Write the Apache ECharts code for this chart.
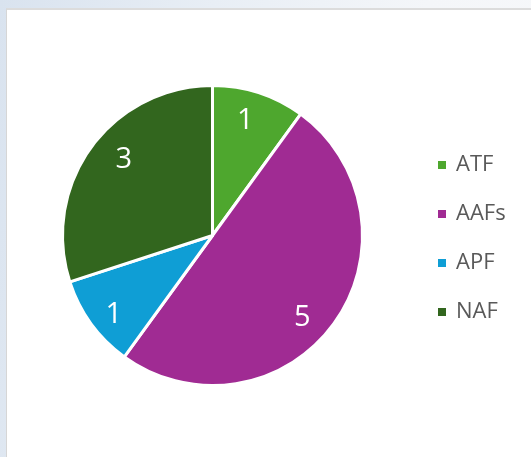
<!DOCTYPE html>
<html>
<head>
<meta charset="utf-8">
<script src="https://cdn.jsdelivr.net/npm/echarts@6/dist/echarts.min.js"></script>
<style>
  html, body { margin: 0; padding: 0; width: 531px; height: 457px; overflow: hidden; }
  body { background: linear-gradient(100deg, #d9e3ef 0%, #e8eef5 35%, #f4f6f9 70%, #f7f8fa 100%); position: relative; }
  #card { position: absolute; left: 6px; top: 8px; right: -2px; bottom: -2px; background: #fff; border-left: 1px solid #d6d6d6; border-top: 2px solid #dcdcdc; }
  #main { position: absolute; left: 0; top: 0; width: 531px; height: 457px; }
</style>
</head>
<body>
<div id="card"></div>
<div id="main"></div>
<script>
var names = ['ATF', 'AAFs', 'APF', 'NAF'];
var counts = [1, 5, 1, 3];
var colors = ['#4ea72e', '#a02b93', '#0f9ed5', '#32661e'];
// small nudges so the value labels sit where the original put them
var labelOffsets = [[-5, 1], [-9, 11], [0, 8], [10, -4]];

var pieData = [];
var labelData = [];
for (var i = 0; i < names.length; i++) {
	pieData.push({ name: names[i], value: counts[i] });
	labelData.push({
		name: names[i],
		value: counts[i],
		itemStyle: { color: 'rgba(0,0,0,0)' },
		label: { offset: labelOffsets[i] }
	});
}

var myChart = echarts.init(document.getElementById('main'));
var option = {
	color: colors,
	animation: false,
	legend: {
		orient: 'vertical',
		left: 436,
		top: 154,
		padding: 0,
		icon: 'rect',
		itemWidth: 10,
		itemHeight: 10,
		itemGap: 27,
		data: names,
		textStyle: {
			fontFamily: 'Open Sans',
			fontSize: 22,
			lineHeight: 22,
			color: '#595959',
			padding: [0, 0, 0, 4]
		}
	},
	series: [
		{
			name: 'count',
			type: 'pie',
			center: [212.5, 235.5],
			radius: [0, 150],
			startAngle: 90,
			clockwise: true,
			silent: true,
			itemStyle: { borderColor: '#fff', borderWidth: 3 },
			label: { show: false },
			labelLine: { show: false },
			data: pieData
		},
		{
			// transparent ring, only used to put the labels further out
			name: 'labels',
			type: 'pie',
			center: [212.5, 235.5],
			radius: [88, 150],
			startAngle: 90,
			clockwise: true,
			silent: true,
			legendHoverLink: false,
			label: {
				show: true,
				position: 'inside',
				formatter: '{c}',
				color: '#fff',
				fontFamily: 'Open Sans',
				fontSize: 29
			},
			labelLine: { show: false },
			data: labelData
		}
	]
};
myChart.setOption(option);
</script>
</body>
</html>
